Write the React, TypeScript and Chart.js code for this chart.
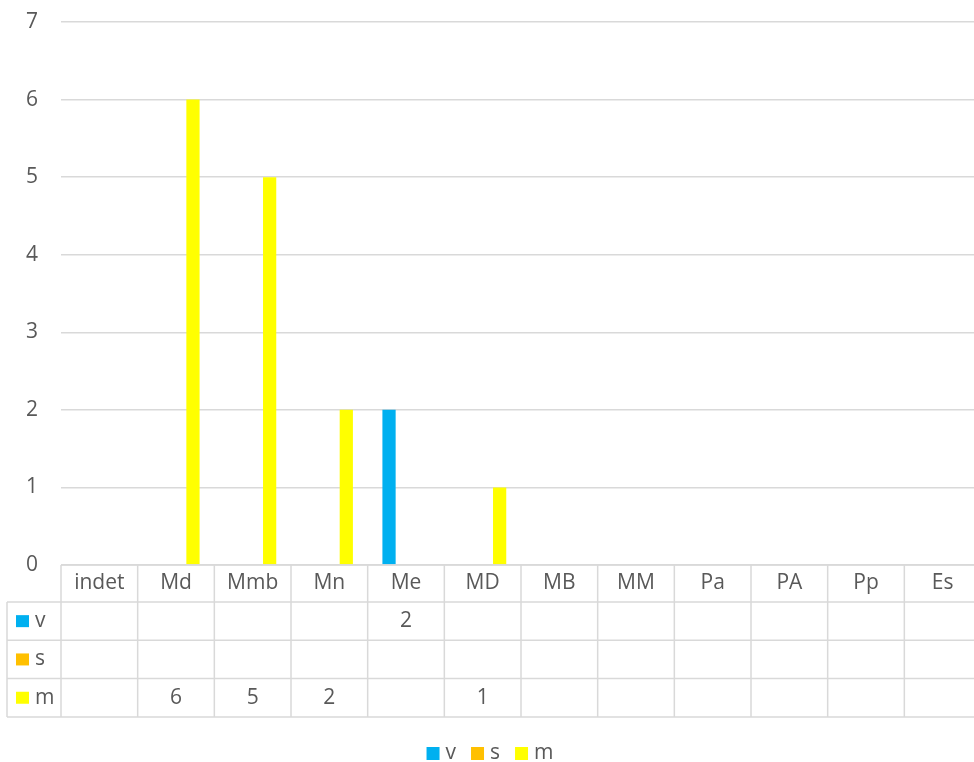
import React, { useEffect, useRef } from "react";
import { Chart, registerables } from "chart.js";

Chart.register(...registerables);

const categories = ["indet", "Md", "Mmb", "Mn", "Me", "MD", "MB", "MM", "Pa", "PA", "Pp", "Es"];
const seriesNames = ["v", "s", "m"];
const seriesColors = ["#00B0F0", "#FFC000", "#FFFF00"];
const vValues = [null, null, null, null, 2, null, null, null, null, null, null, null];
const sValues = [null, null, null, null, null, null, null, null, null, null, null, null];
const mValues = [null, 6, 5, 2, null, 1, null, null, null, null, null, null];
const yMin = 0;
const yMax = 7;
const yStep = 1;

const FONT = "'Open Sans', sans-serif";
const FONT_SIZE = 21;
const TEXT = "#595959";
const GRID = "#D9D9D9";

const CANVAS_W = 981;
const CANVAS_H = 770;

const HEADER_H = 37;
const ROW_H = 38.3;
const LABEL_LEFT = 7;

const tablePlugin = {
  id: "dataTable",
  afterDraw(chart: any) {
    const ctx = chart.ctx as CanvasRenderingContext2D;
    const { left, right, bottom } = chart.chartArea;
    const n = categories.length;
    const cw = (right - left) / n;
    const y0 = bottom;
    const rowTops = [y0 + HEADER_H];
    for (let i = 1; i <= 3; i++) rowTops.push(y0 + HEADER_H + i * ROW_H);
    const yEnd = rowTops[rowTops.length - 1];

    ctx.save();
    ctx.strokeStyle = GRID;
    ctx.lineWidth = 1.5;
    ctx.beginPath();
    ctx.moveTo(left, y0);
    ctx.lineTo(right, y0);
    for (const y of rowTops) {
      ctx.moveTo(LABEL_LEFT, y);
      ctx.lineTo(right, y);
    }
    for (let i = 0; i <= n; i++) {
      const x = left + i * cw;
      ctx.moveTo(x, y0);
      ctx.lineTo(x, yEnd);
    }
    ctx.moveTo(LABEL_LEFT, rowTops[0]);
    ctx.lineTo(LABEL_LEFT, yEnd);
    ctx.stroke();

    ctx.fillStyle = TEXT;
    ctx.font = `${FONT_SIZE}px ${FONT}`;
    ctx.textBaseline = "middle";
    ctx.textAlign = "center";
    for (let i = 0; i < n; i++) {
      ctx.fillText(categories[i], left + (i + 0.5) * cw, y0 + HEADER_H / 2);
    }
    chart.data.datasets.forEach((ds: any, r: number) => {
      const yc = rowTops[r] + ROW_H / 2;
      ctx.fillStyle = ds.backgroundColor;
      ctx.fillRect(16, yc - 6, 13, 12);
      ctx.fillStyle = TEXT;
      ctx.textAlign = "left";
      ctx.fillText(ds.label, 35, yc);
      ctx.textAlign = "center";
      ds.data.forEach((v: any, i: number) => {
        if (v !== null && v !== undefined) {
          ctx.fillText(String(v), left + (i + 0.5) * cw, yc);
        }
      });
    });

    // legend
    const boxW = 13;
    const textGap = 6;
    const itemGap = 15;
    const widths = chart.data.datasets.map(
      (ds: any) => boxW + textGap + ctx.measureText(ds.label).width
    );
    const total = widths.reduce((a: number, b: number) => a + b, 0) + itemGap * (widths.length - 1);
    let x = 490 - total / 2;
    const ly = 753.5;
    ctx.textAlign = "left";
    chart.data.datasets.forEach((ds: any, i: number) => {
      ctx.fillStyle = ds.backgroundColor;
      ctx.fillRect(x, ly - 6.5, boxW, 13);
      ctx.fillStyle = TEXT;
      ctx.fillText(ds.label, x + boxW + textGap, ly);
      x += widths[i] + itemGap;
    });
    ctx.restore();
  },
};

export default function App() {
  const ref = useRef<HTMLCanvasElement | null>(null);
  useEffect(() => {
    if (!ref.current) return;
    const values = [vValues, sValues, mValues];
    const chart = new Chart(ref.current, {
      type: "bar",
      data: {
        labels: categories,
        datasets: seriesNames.map((name, i) => ({
          label: name,
          data: values[i],
          backgroundColor: seriesColors[i],
          borderWidth: 0,
          categoryPercentage: 0.664,
          barPercentage: 0.78,
        })),
      },
      options: {
        animation: false,
        responsive: false,
        devicePixelRatio: 1,
        layout: { padding: { top: 22, bottom: CANVAS_H - 565 - 164, left: 0, right: 0 } },
        plugins: {
          legend: { display: false },
          tooltip: { enabled: false },
        },
        scales: {
          x: {
            grid: { display: false },
            border: { display: false },
            ticks: { display: false },
            afterFit(axis: any) {
              axis.height = 164;
              axis.paddingLeft = 0;
              axis.paddingRight = 0;
            },
          },
          y: {
            min: yMin,
            max: yMax,
            ticks: {
              stepSize: yStep,
              padding: 23,
              color: TEXT,
              font: { family: FONT, size: FONT_SIZE },
            },
            grid: { color: GRID, lineWidth: 1.5, drawTicks: false },
            border: { display: false },
            afterFit(axis: any) {
              axis.width = 61;
              axis.paddingTop = 0;
              axis.paddingBottom = 0;
            },
          },
        },
      },
      plugins: [tablePlugin],
    });
    return () => chart.destroy();
  }, []);

  return (
    <div
      style={{
        position: "fixed",
        left: 0,
        top: 0,
        width: 974,
        height: 762,
        overflow: "hidden",
        background: "#fff",
      }}
    >
      <canvas ref={ref} width={CANVAS_W} height={CANVAS_H} style={{ display: "block" }} />
    </div>
  );
}
